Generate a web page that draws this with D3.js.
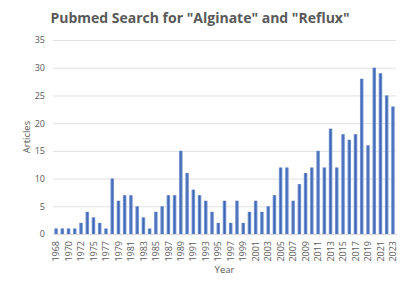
<!DOCTYPE html>
<html>
<head>
<meta charset="utf-8">
<script src="https://cdn.jsdelivr.net/npm/d3@7"></script>
<style>
  body { margin: 0; background: #fff; }
  text { font-family: "Open Sans", "Noto Sans", sans-serif; }
</style>
</head>
<body>
<div id="chart"></div>
<script>
'use strict';

// years (one year is skipped between 1972 and 1975)
var years = [1968, 1969, 1970, 1971, 1972, 1973, 1975, 1976, 1977, 1978,
    1979, 1980, 1981, 1982, 1983, 1984, 1985, 1986, 1987, 1988,
    1989, 1990, 1991, 1992, 1993, 1994, 1995, 1996, 1997, 1998,
    1999, 2000, 2001, 2002, 2003, 2004, 2005, 2006, 2007, 2008,
    2009, 2010, 2011, 2012, 2013, 2014, 2015, 2016, 2017, 2018,
    2019, 2020, 2021, 2022, 2023];

var articles = [1, 1, 1, 1, 2, 4, 3, 2, 1, 10,
    6, 7, 7, 5, 3, 1, 4, 5, 7, 7,
    15, 11, 8, 7, 6, 4, 2, 6, 2, 6,
    2, 4, 6, 4, 5, 7, 12, 12, 6, 9,
    11, 12, 15, 12, 19, 12, 18, 17, 18, 28,
    16, 30, 29, 25, 23];

var yTicks = [0, 5, 10, 15, 20, 25, 30, 35];

var width = 400, height = 281;
var margin = { top: 40, right: 4, bottom: 47, left: 53 };

var svg = d3.select("#chart")
    .append("svg")
    .attr("width", width)
    .attr("height", height);

var defs = svg.append("defs");
var grad = defs.append("linearGradient")
    .attr("id", "barGrad")
    .attr("x1", "0").attr("x2", "1").attr("y1", "0").attr("y2", "0");
grad.append("stop").attr("offset", "0%").attr("stop-color", "#8aa6da");
grad.append("stop").attr("offset", "50%").attr("stop-color", "#3a63b4");
grad.append("stop").attr("offset", "100%").attr("stop-color", "#8aa6da");

var x = d3.scaleBand()
    .domain(years)
    .range([margin.left, width - margin.right])
    .paddingInner(0.42)
    .paddingOuter(0.2);

var y = d3.scaleLinear()
    .domain([0, 35])
    .range([height - margin.bottom, margin.top]);

// title
svg.append("text")
    .attr("x", 200)
    .attr("y", 23)
    .attr("text-anchor", "middle")
    .style("font-size", "14px")
    .style("font-weight", "bold")
    .style("fill", "#595959")
    .text('Pubmed Search for "Alginate" and "Reflux"');

// gridlines + y labels
var yAxis = svg.append("g")
    .attr("transform", "translate(" + margin.left + ",0)")
    .call(d3.axisLeft(y).tickValues(yTicks).tickSize(-(width - margin.left - margin.right)).tickPadding(8));
yAxis.select(".domain").remove();
yAxis.selectAll(".tick line").attr("stroke", "#d9d9d9").attr("stroke-width", 0.8);
yAxis.selectAll(".tick text")
    .style("font-size", "9px")
    .style("fill", "#595959")
    .style("font-family", "'Open Sans', sans-serif");

// bars
svg.append("g")
    .selectAll("rect")
    .data(years)
    .enter().append("rect")
    .attr("x", function (d) { return x(d); })
    .attr("y", function (d, i) { return y(articles[i]); })
    .attr("width", x.bandwidth())
    .attr("height", function (d, i) { return y(0) - y(articles[i]); })
    .attr("fill", "url(#barGrad)");

// x labels, every other category
var xAxis = svg.append("g")
    .attr("transform", "translate(0," + y(0) + ")")
    .call(d3.axisBottom(x)
        .tickValues(years.filter(function (d, i) { return i % 2 === 0; }))
        .tickSize(0)
        .tickPadding(0));
xAxis.select(".domain").attr("stroke", "#d9d9d9");
xAxis.selectAll(".tick text")
    .attr("transform", "rotate(-90)")
    .attr("text-anchor", "end")
    .attr("x", -7)
    .attr("y", 0)
    .attr("dy", "0.35em")
    .style("font-size", "9px")
    .style("fill", "#595959")
    .style("font-family", "'Open Sans', sans-serif");

// axis titles
svg.append("text")
    .attr("x", (margin.left + width - margin.right) / 2)
    .attr("y", 273)
    .attr("text-anchor", "middle")
    .style("font-size", "9.5px")
    .style("fill", "#595959")
    .text("Year");

svg.append("text")
    .attr("transform", "translate(30," + (y(0) + y(35)) / 2 + ") rotate(-90)")
    .attr("text-anchor", "middle")
    .style("font-size", "9.5px")
    .style("fill", "#595959")
    .text("Articles");
</script>
</body>
</html>
